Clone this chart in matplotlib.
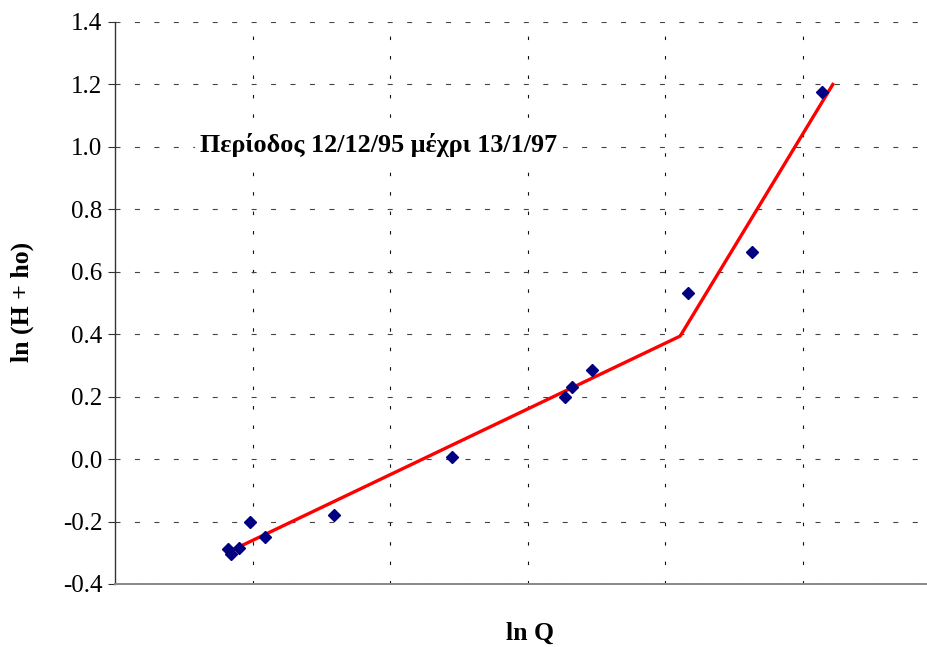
import numpy as np
import matplotlib
matplotlib.use("Agg")
import matplotlib.pyplot as plt

# measured points (ln Q, ln(H + ho))
ln_q = [0.82, 0.84, 0.90, 0.98, 1.09, 1.59, 2.45, 3.27, 3.32, 3.47, 4.17, 4.63, 5.14]
ln_h = [-0.288, -0.304, -0.285, -0.201, -0.249, -0.179, 0.007, 0.199, 0.231, 0.285, 0.532, 0.663, 1.176]

# fitted two-segment rating curve (vertices)
fit_x = [0.85, 4.11, 5.22]
fit_y = [-0.292, 0.394, 1.20]

y_ticks = [-0.4, -0.2, 0.0, 0.2, 0.4, 0.6, 0.8, 1.0, 1.2, 1.4]
x_grid = [1, 2, 3, 4, 5]

title = "Περίοδος 12/12/95 μέχρι 13/1/97"

plt.rcParams["font.family"] = ["Liberation Serif", "DejaVu Serif"]
plt.rcParams["axes.unicode_minus"] = False
plt.rcParams["lines.scale_dashes"] = False

fig = plt.figure(figsize=(9.27, 6.47), dpi=100)
ax = fig.add_axes([115 / 927, 1 - 584 / 647, 1 - 115 / 927, (584 - 22) / 647])

ax.plot(fit_x, fit_y, color="#ff0000", lw=2.4, zorder=3)
ax.plot(ln_q, ln_h, ls="none", marker="D", ms=6.5, color="#000080", zorder=4)

ax.set_xlim(0, 5.905)
ax.set_ylim(-0.4, 1.4)
ax.set_yticks(y_ticks)
ax.set_yticklabels([f"{v:.1f}" for v in y_ticks], fontsize=18)
ax.set_xticks(x_grid)
ax.set_xticklabels([])
ax.tick_params(axis="x", length=0)
ax.tick_params(axis="y", direction="out", length=5, width=0.8, pad=4, color="#333333")

ax.grid(True, axis="y", color="#444444", lw=0.8, ls=(0, (3.6, 10.4)))
ax.grid(True, axis="x", color="#111111", lw=0.8, ls=(0, (2.5, 11.5)))

for s in ["top", "right"]:
    ax.spines[s].set_visible(False)
ax.spines["left"].set_color("#333333")
ax.spines["left"].set_linewidth(1.0)
ax.spines["bottom"].set_color("#888888")
ax.spines["bottom"].set_linewidth(1.4)

fig.text(200 / 927, 1 - 145 / 647, title, fontsize=18.8, fontweight="bold",
         ha="left", va="center",
         bbox=dict(facecolor="white", edgecolor="none", pad=4))
fig.text(22 / 927, 1 - 302 / 647, "ln (H + ho)", fontsize=18.5, fontweight="bold",
         rotation=90, ha="center", va="center")
fig.text(530 / 927, 1 - 633 / 647, "ln Q", fontsize=18.5, fontweight="bold",
         ha="center", va="center")

fig.savefig("out.png", dpi=100)
